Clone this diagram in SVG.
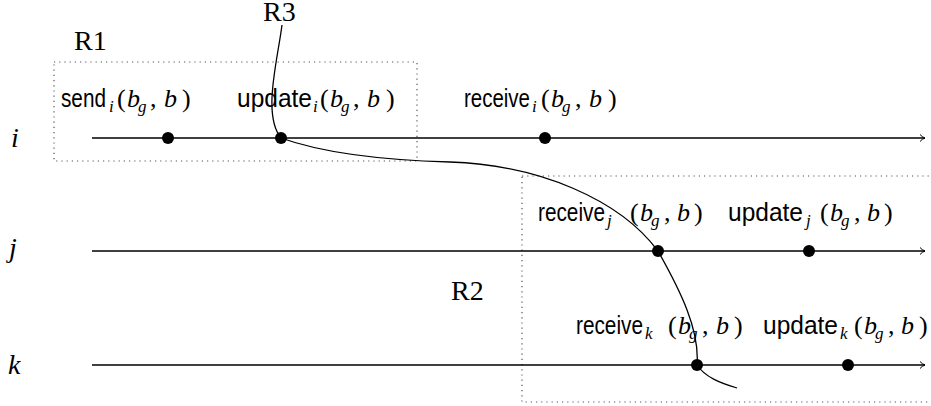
<svg xmlns="http://www.w3.org/2000/svg" width="931" height="406" viewBox="0 0 931 406">
<defs>
<marker id="arr" markerWidth="10" markerHeight="10" refX="7" refY="5" orient="auto" markerUnits="userSpaceOnUse">
<path d="M2,1.5 Q4,4 7,5 Q4,6 2,8.5" fill="none" stroke="#000" stroke-width="1"/>
</marker>
<style>
.tl{stroke:#000;stroke-width:1.3;fill:none}
.box{stroke:#555;stroke-width:1.2;stroke-dasharray:1.2 4;fill:none}
.dot{fill:#000}
text{fill:#000}
.sf{font-family:"Liberation Sans",Arial,sans-serif;font-size:25px}
.m{font-family:"Liberation Serif","Times New Roman",serif;font-size:26px}
.mi{font-family:"Liberation Serif","Times New Roman",serif;font-size:26px;font-style:italic}
.big{font-family:"Liberation Serif","Times New Roman",serif;font-size:28px;font-style:italic}
.lbl{font-family:"Liberation Serif","Times New Roman",serif;font-size:28px}
.sub{font-family:"Liberation Serif","Times New Roman",serif;font-size:17px;font-style:italic}
</style>
</defs>
<rect width="931" height="406" fill="#fff"/>
<g id="regions">
<rect id="R1box" class="box" x="54" y="62" width="363" height="99"/>
<rect id="R2box" class="box" x="522" y="176" width="412" height="226"/>
<text class="lbl" x="74" y="50">R1</text>
<text class="lbl" x="263" y="21">R3</text>
<text class="lbl" x="451" y="300">R2</text>
</g>
<g id="timelines">
<g id="line-i"><text class="big" x="11" y="147">i</text><line class="tl" x1="92" y1="138" x2="925" y2="138" marker-end="url(#arr)"/></g>
<g id="line-j"><text class="big" x="9" y="257">j</text><line class="tl" x1="92" y1="251" x2="925" y2="251" marker-end="url(#arr)"/></g>
<g id="line-k"><text class="big" x="8" y="374">k</text><line class="tl" x1="92" y1="365" x2="925" y2="365" marker-end="url(#arr)"/></g>
</g>
<g id="connectors">
<path class="tl" d="M282,25 C278,58 262,115 281,138 C320,152 380,160 450,162 C540,165 620,200 658,251 C680,290 700,330 697,365 C705,377 720,383 737,388"/>
</g>
<g id="send-i"><circle class="dot" cx="168" cy="138" r="6"/>
<text y="107"><tspan class="sf" x="61" textLength="45" lengthAdjust="spacingAndGlyphs">send</tspan><tspan class="sub" x="109" dy="5">i</tspan><tspan class="m" x="117" dy="-5">(</tspan><tspan class="mi" x="127">b</tspan><tspan class="sub" x="138" dy="5">g</tspan><tspan class="m" x="150" dy="-5">,</tspan><tspan class="mi" x="164">b</tspan><tspan class="m" x="182">)</tspan></text></g>
<g id="update-i"><circle class="dot" cx="281" cy="138" r="6"/>
<text y="107"><tspan class="sf" x="237" textLength="75" lengthAdjust="spacingAndGlyphs">update</tspan><tspan class="sub" x="313" dy="5">i</tspan><tspan class="m" x="320" dy="-5">(</tspan><tspan class="mi" x="330">b</tspan><tspan class="sub" x="341" dy="5">g</tspan><tspan class="m" x="353" dy="-5">,</tspan><tspan class="mi" x="367">b</tspan><tspan class="m" x="386">)</tspan></text></g>
<g id="receive-i"><circle class="dot" cx="545" cy="138" r="6"/>
<text y="107"><tspan class="sf" x="464" textLength="66" lengthAdjust="spacingAndGlyphs">receive</tspan><tspan class="sub" x="532" dy="5">i</tspan><tspan class="m" x="541" dy="-5">(</tspan><tspan class="mi" x="551">b</tspan><tspan class="sub" x="562" dy="5">g</tspan><tspan class="m" x="575" dy="-5">,</tspan><tspan class="mi" x="589">b</tspan><tspan class="m" x="608">)</tspan></text></g>
<g id="receive-j"><circle class="dot" cx="658" cy="251" r="6"/>
<text y="221"><tspan class="sf" x="538" textLength="67" lengthAdjust="spacingAndGlyphs">receive</tspan><tspan class="sub" x="607" dy="5">j</tspan><tspan class="m" x="630" dy="-5">(</tspan><tspan class="mi" x="640">b</tspan><tspan class="sub" x="651" dy="5">g</tspan><tspan class="m" x="664" dy="-5">,</tspan><tspan class="mi" x="677">b</tspan><tspan class="m" x="694">)</tspan></text></g>
<g id="update-j"><circle class="dot" cx="809" cy="251" r="6"/>
<text y="221"><tspan class="sf" x="728" textLength="75" lengthAdjust="spacingAndGlyphs">update</tspan><tspan class="sub" x="806" dy="5">j</tspan><tspan class="m" x="820" dy="-5">(</tspan><tspan class="mi" x="830">b</tspan><tspan class="sub" x="841" dy="5">g</tspan><tspan class="m" x="854" dy="-5">,</tspan><tspan class="mi" x="867">b</tspan><tspan class="m" x="884">)</tspan></text></g>
<g id="receive-k"><circle class="dot" cx="697" cy="365" r="6"/>
<text y="334"><tspan class="sf" x="576" textLength="67" lengthAdjust="spacingAndGlyphs">receive</tspan><tspan class="sub" x="645" dy="5">k</tspan><tspan class="m" x="668" dy="-5">(</tspan><tspan class="mi" x="678">b</tspan><tspan class="sub" x="689" dy="5">g</tspan><tspan class="m" x="702" dy="-5">,</tspan><tspan class="mi" x="716">b</tspan><tspan class="m" x="734">)</tspan></text></g>
<g id="update-k"><circle class="dot" cx="848" cy="365" r="6"/>
<text y="334"><tspan class="sf" x="763" textLength="75" lengthAdjust="spacingAndGlyphs">update</tspan><tspan class="sub" x="840" dy="5">k</tspan><tspan class="m" x="854" dy="-5">(</tspan><tspan class="mi" x="864">b</tspan><tspan class="sub" x="875" dy="5">g</tspan><tspan class="m" x="888" dy="-5">,</tspan><tspan class="mi" x="901">b</tspan><tspan class="m" x="919">)</tspan></text></g>
</svg>
